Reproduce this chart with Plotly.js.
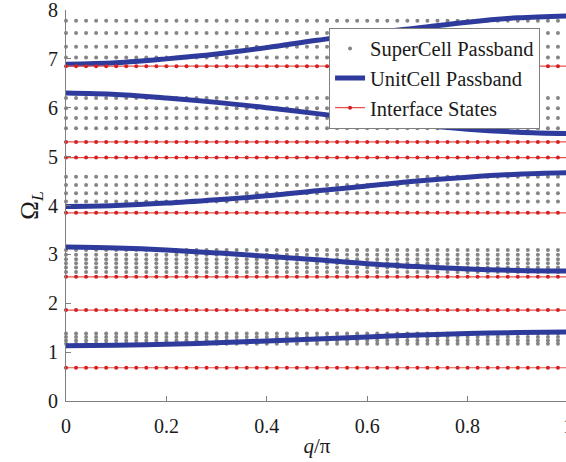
<!DOCTYPE html>
<html>
<head>
<meta charset="utf-8">
<script src="https://cdn.plot.ly/plotly-3.0.1.min.js"></script>
<style>
html,body{margin:0;padding:0;overflow:hidden;background:#fff;}
#chart{width:570px;height:462px;}
</style>
</head>
<body>
<div id="chart"></div>
<script>
// q/pi sampling grid of the supercell computation
const q = [0,0.02,0.04,0.06,0.08,0.10,0.12,0.14,0.16,0.18,0.20,0.22,0.24,0.26,0.28,0.30,0.32,0.34,0.36,0.38,0.40,
           0.42,0.44,0.46,0.48,0.50,0.52,0.54,0.56,0.58,0.60,0.62,0.64,0.66,0.68,0.70,0.72,0.74,0.76,0.78,0.80,
           0.82,0.84,0.86,0.88,0.90,0.92,0.94,0.96,0.98,1.00];

// SuperCell passband eigenvalue rows
const superBand1 = [1.17, 1.24, 1.31, 1.38];
const superBand2 = [2.64, 2.73, 2.82, 2.90, 2.99, 3.09];
const superBand3 = [4.08, 4.25, 4.42, 4.59];
const superBand4 = [5.58, 5.79, 5.99, 6.20];
const superBand5 = [7.03, 7.25, 7.53, 7.78];

// UnitCell passband curves, read at these q values
const qUnit = [0,0.1,0.2,0.3,0.4,0.5,0.6,0.7,0.8,0.9,1.0];
const unitBand1 = [1.13,1.14,1.16,1.19,1.23,1.27,1.31,1.35,1.38,1.40,1.41];
const unitBand2 = [3.15,3.13,3.09,3.03,2.96,2.89,2.81,2.75,2.70,2.67,2.66];
const unitBand3 = [3.98,4.00,4.05,4.12,4.20,4.30,4.40,4.50,4.58,4.64,4.67];
const unitBand4 = [6.30,6.27,6.20,6.11,6.00,5.88,5.76,5.65,5.56,5.50,5.47];
const unitBand5 = [6.89,6.92,7.00,7.10,7.23,7.38,7.52,7.63,7.75,7.84,7.88];

// Interface state frequencies
const interfaceStates = [0.68, 1.86, 2.54, 3.85, 4.98, 5.30, 6.85];

const serif = "Liberation Serif, Times New Roman, serif";

// build grey dot cloud
const sx = [], sy = [];
[superBand1, superBand2, superBand3, superBand4, superBand5].forEach(band => {
  band.forEach(level => {
    q.forEach(v => { sx.push(v); sy.push(level); });
  });
});

const traces = [];
traces.push({
  x: sx, y: sy, mode: 'markers', type: 'scatter',
  name: 'SuperCell Passband', cliponaxis: false,
  marker: {color: '#858585', size: 4},
  hoverinfo: 'skip'
});

[unitBand1, unitBand2, unitBand3, unitBand4, unitBand5].forEach((b, i) => {
  traces.push({
    x: qUnit, y: b, mode: 'lines', type: 'scatter',
    name: 'UnitCell Passband', legendgroup: 'unit', showlegend: i === 0,
    line: {color: '#2f3b9c', width: 5, shape: 'spline', smoothing: 1}
  });
});

interfaceStates.forEach((f, i) => {
  traces.push({
    x: q, y: q.map(() => f), mode: 'lines+markers', type: 'scatter',
    name: 'Interface States', legendgroup: 'iface', showlegend: i === 0,
    cliponaxis: false,
    line: {color: '#e8504f', width: 1.2},
    marker: {color: '#d42020', size: 4}
  });
});

const layout = {
  width: 570, height: 462,
  margin: {l: 66, r: 2, t: 10, b: 61},
  paper_bgcolor: '#fff', plot_bgcolor: '#fff',
  font: {family: serif, size: 20, color: '#1a1a1a'},
  showlegend: true,
  legend: {
    x: 0.524, y: 0.955, xanchor: 'left', yanchor: 'top',
    bgcolor: '#fff', bordercolor: '#808080', borderwidth: 1,
    font: {family: serif, size: 20.5, color: '#1a1a1a'},
    tracegroupgap: 0
  },
  xaxis: {
    range: [0, 1], tickvals: [0,0.2,0.4,0.6,0.8,1], ticktext: ['0','0.2','0.4','0.6','0.8','1'],
    ticks: 'inside', ticklen: 5, tickcolor: '#808080',
    ticklabeloverflow: 'allow', ticklabelstandoff: 7,
    showline: true, linecolor: '#808080', linewidth: 1,
    showgrid: false, zeroline: false, mirror: false,
    title: {text: '<i>q</i>/π', font: {family: serif, size: 21}, standoff: 2}
  },
  yaxis: {
    range: [0, 8], dtick: 1,
    ticks: 'inside', ticklen: 5, tickcolor: '#808080',
    ticklabeloverflow: 'allow', ticklabelstandoff: 3,
    showline: true, linecolor: '#808080', linewidth: 1,
    showgrid: false, zeroline: false, mirror: false,
    title: {text: 'Ω<sub><i>L</i></sub>', font: {family: serif, size: 25}, standoff: 2}
  }
};

Plotly.newPlot('chart', traces, layout, {displayModeBar: false, staticPlot: true});
</script>
</body>
</html>
